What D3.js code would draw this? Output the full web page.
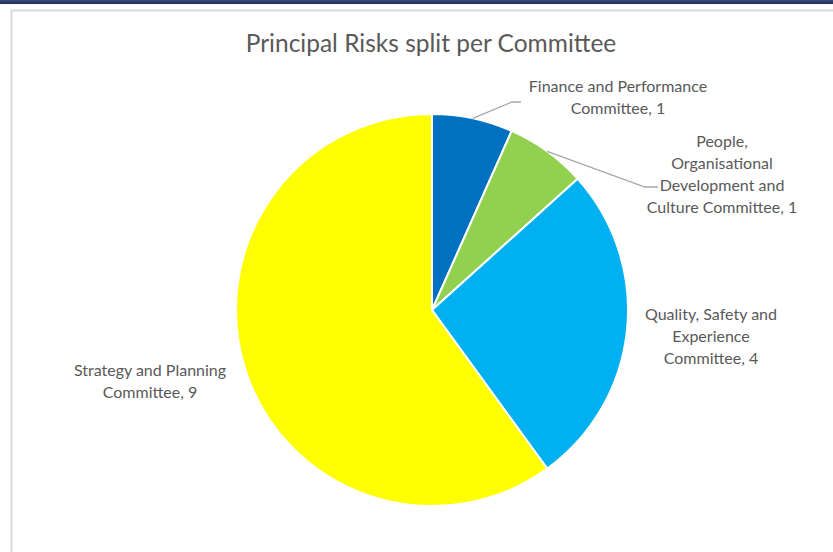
<!DOCTYPE html>
<html>
<head>
<meta charset="utf-8">
<script src="https://cdn.jsdelivr.net/npm/d3@7"></script>
<style>
  html, body { margin: 0; padding: 0; background: #fff; }
  svg { display: block; }
  text { font-family: Lato, "Open Sans", sans-serif; fill: #595959; }
</style>
</head>
<body>
<svg id="chart" width="833" height="552"></svg>
<script>
// Principal risks counted per committee
const committees = [
  "Finance and Performance Committee",
  "People, Organisational Development and Culture Committee",
  "Quality, Safety and Experience Committee",
  "Strategy and Planning Committee"
];
const riskCounts = [1, 1, 4, 9];
const sliceColors = ["#0070c0", "#92d050", "#00b0f0", "#ffff00"];
// Label lines as wrapped in the chart
const labelLines = [
  ["Finance and Performance", "Committee, 1"],
  ["People,", "Organisational", "Development and", "Culture Committee, 1"],
  ["Quality, Safety and", "Experience", "Committee, 4"],
  ["Strategy and Planning", "Committee, 9"]
];
const chartTitle = "Principal Risks split per Committee";

const W = 833, H = 552;
const svg = d3.select("#chart");

// Window chrome: dark bar on top and the light chart frame
const topBar = svg.append("defs").append("linearGradient")
  .attr("id", "bar").attr("x1", 0).attr("y1", 0).attr("x2", 0).attr("y2", 1);
topBar.append("stop").attr("offset", "0%").attr("stop-color", "#3b4a78");
topBar.append("stop").attr("offset", "100%").attr("stop-color", "#1f2d57");
svg.append("rect").attr("x", 0).attr("y", 0).attr("width", W).attr("height", 4).attr("fill", "url(#bar)");
svg.append("rect").attr("x", 11.5).attr("y", 10.5).attr("width", W + 20).attr("height", H + 20)
  .attr("fill", "#fff").attr("stroke", "#d9d9d9").attr("stroke-width", 2);

svg.append("text")
  .attr("x", 431).attr("y", 52)
  .attr("text-anchor", "middle")
  .style("font-size", "24.5px")
  .text(chartTitle);

const cx = 432, cy = 310, r = 196;
const g = svg.append("g").attr("transform", `translate(${cx},${cy})`);

const pie = d3.pie().sort(null).value(d => d)(riskCounts);
const arc = d3.arc().innerRadius(0).outerRadius(r);

g.selectAll("path.slice")
  .data(pie)
  .join("path")
  .attr("class", "slice")
  .attr("d", arc)
  .attr("fill", (d, i) => sliceColors[i])
  .attr("stroke", "#fff")
  .attr("stroke-width", 2)
  .attr("stroke-linejoin", "round");

// Label anchors (centre of the text block) relative to the pie centre
const labelPos = [
  { x: 186, y: -213 },
  { x: 290, y: -136 },
  { x: 279, y: 26 },
  { x: -282, y: 71 }
];
const lineH = 22;

labelLines.forEach((lines, i) => {
  const p = labelPos[i];
  const t = g.append("text")
    .attr("text-anchor", "middle")
    .style("font-size", "16px");
  const top = p.y - (lines.length - 1) * lineH / 2;
  lines.forEach((ln, k) => {
    t.append("tspan").attr("x", p.x).attr("y", top + k * lineH + 5.5).text(ln);
  });
});

// Leader lines for the two small slices
const leader = d3.line();
[0, 1].forEach(i => {
  const d = pie[i];
  const mid = (d.startAngle + d.endAngle) / 2;
  const edge = [Math.sin(mid) * r, -Math.cos(mid) * r];
  const pts = i === 0
    ? [edge, [80, -208], [89, -208]]
    : [edge, [213, -123], [226, -123]];
  g.append("path")
    .attr("d", leader(pts))
    .attr("fill", "none")
    .attr("stroke", "#a6a6a6")
    .attr("stroke-width", 1.3);
});
</script>
</body>
</html>
